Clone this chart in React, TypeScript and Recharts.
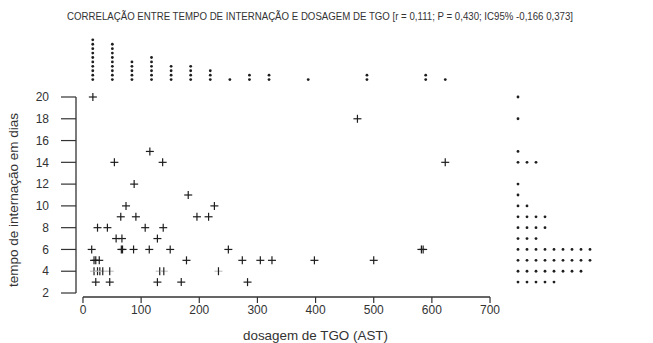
import { ScatterChart, Scatter, XAxis, YAxis, ReferenceLine } from 'recharts'

// TGO (AST) value and length of stay for each patient
const tgo = [
  17, 472, 115, 54, 137, 623, 88, 181, 74, 226, 65, 91, 196, 216, 25, 42, 107, 138, 57, 67, 128,
  15, 66, 68, 87, 114, 150, 250, 582, 585, 19, 22, 28, 178, 274, 305, 325, 398, 500, 19, 25, 29, 34,
  46, 132, 139, 233, 22, 46, 128, 169, 283,
]
const days = [
  20, 18, 15, 14, 14, 14, 12, 11, 10, 10, 9, 9, 9, 9, 8, 8, 8, 8, 7, 7, 7, 6, 6, 6, 6, 6, 6, 6, 6, 6,
  5, 5, 5, 5, 5, 5, 5, 5, 5, 4, 4, 4, 4, 4, 4, 4, 4, 3, 3, 3, 3, 3,
]

const xTicks = [0, 100, 200, 300, 400, 500, 600, 700]
const yTicks = [2, 4, 6, 8, 10, 12, 14, 16, 18, 20]

const title = 'CORRELAÇÃO ENTRE TEMPO DE INTERNAÇÃO E DOSAGEM DE TGO [r = 0,111; P = 0,430; IC95% -0,166 0,373]'
const xLabel = 'dosagem de TGO (AST)'
const yLabel = 'tempo de internação em dias'

const X_DOMAIN: [number, number] = [-12, 712]
const Y_DOMAIN: [number, number] = [1.633, 20.367]
const BIN = 33.68 // width of the stacks in the top dot plot
const INK = '#1e1e1e'
const FONT = '"Liberation Sans", Arial, sans-serif'

const points = tgo.map((x, i) => ({ x, y: days[i] }))

// stacked marginal dot plots, built from the same data
const topDots = (() => {
  const seen: Record<number, number> = {}
  return tgo.map((v) => {
    const b = Math.floor(v / BIN)
    const k = seen[b] ?? 0
    seen[b] = k + 1
    return { x: (b + 0.5) * BIN, y: k }
  })
})()

const rightDots = (() => {
  const seen: Record<number, number> = {}
  return days.map((v) => {
    const k = seen[v] ?? 0
    seen[v] = k + 1
    return { x: k, y: v }
  })
})()

const Cross = (props: any) => {
  const { cx, cy, payload } = props
  const s = 4
  // the horizontal strokes of the y=4 row are almost lost in the original scan
  const faint = payload && payload.y === 4
  return (
    <g>
      <line x1={cx - s} x2={cx + s} y1={cy} y2={cy} stroke={faint ? '#c4c4c4' : INK} strokeWidth={1.2} />
      <line x1={cx} x2={cx} y1={cy - s} y2={cy + s} stroke={INK} strokeWidth={1.2} />
    </g>
  )
}

const Dot = (props: any) => <circle cx={props.cx} cy={props.cy} r={1.4} fill={INK} />

const layer: React.CSSProperties = { position: 'absolute', left: 0, top: 0 }

export default function App() {
  return (
    <div style={{ position: 'absolute', left: 0, top: 0, width: 653, height: 343, background: '#fff' }}>
      <div style={layer}>
        <ScatterChart width={653} height={343} margin={{ top: 93, right: 156, bottom: 16, left: 16 }}>
          <XAxis
            type="number"
            dataKey="x"
            domain={X_DOMAIN}
            ticks={xTicks}
            interval={0}
            axisLine={false}
            tickLine={{ stroke: '#333', strokeWidth: 1.2 }}
            tickSize={6}
            tickMargin={2}
            height={30}
            tick={{ fontSize: 12, fill: '#333', fontFamily: FONT }}
          />
          <YAxis
            type="number"
            dataKey="y"
            domain={Y_DOMAIN}
            ticks={yTicks}
            interval={0}
            axisLine={false}
            tickLine={{ stroke: '#333', strokeWidth: 1.2 }}
            tickSize={15}
            tickMargin={12}
            width={60}
            tick={{ fontSize: 12, fill: '#333', fontFamily: FONT }}
          />
          <ReferenceLine
            segment={[{ x: 0, y: Y_DOMAIN[0] }, { x: 700, y: Y_DOMAIN[0] }]}
            stroke="#333"
            strokeWidth={1.3}
            ifOverflow="visible"
          />
          <ReferenceLine
            segment={[{ x: X_DOMAIN[0], y: 2 }, { x: X_DOMAIN[0], y: 20 }]}
            stroke="#333"
            strokeWidth={1.3}
            ifOverflow="visible"
          />
          <Scatter data={points} shape={Cross} isAnimationActive={false} />
        </ScatterChart>
      </div>

      <div style={layer}>
        <ScatterChart width={653} height={343} margin={{ top: 31, right: 156, bottom: 259, left: 76 }}>
          <XAxis type="number" dataKey="x" domain={X_DOMAIN} hide />
          <YAxis type="number" dataKey="y" domain={[-1, 11]} hide />
          <Scatter data={topDots} shape={Dot} isAnimationActive={false} />
        </ScatterChart>
      </div>

      <div style={layer}>
        <ScatterChart width={653} height={343} margin={{ top: 93, right: 27, bottom: 46, left: 509 }}>
          <XAxis type="number" dataKey="x" domain={[-1, 12]} hide />
          <YAxis type="number" dataKey="y" domain={Y_DOMAIN} hide />
          <Scatter data={rightDots} shape={Dot} isAnimationActive={false} />
        </ScatterChart>
      </div>

      <svg width={653} height={343} style={{ ...layer, pointerEvents: 'none' }}>
        <text
          x={320}
          y={20}
          textAnchor="middle"
          fontSize={10.5}
          fill="#333"
          fontFamily={FONT}
          textLength={506}
          lengthAdjust="spacingAndGlyphs"
        >
          {title}
        </text>
        <text
          x={315.5}
          y={340}
          textAnchor="middle"
          fontSize={13}
          fill="#333"
          fontFamily={FONT}
          textLength={145}
          lengthAdjust="spacingAndGlyphs"
        >
          {xLabel}
        </text>
        <text
          x={18}
          y={200}
          transform="rotate(-90 18 200)"
          textAnchor="middle"
          fontSize={13}
          fill="#333"
          fontFamily={FONT}
          textLength={174}
          lengthAdjust="spacingAndGlyphs"
        >
          {yLabel}
        </text>
      </svg>
    </div>
  )
}
